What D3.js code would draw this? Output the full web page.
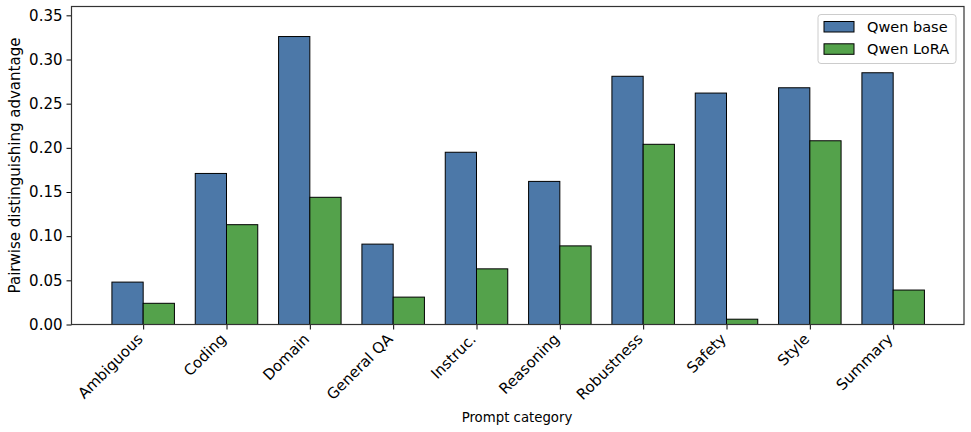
<!DOCTYPE html>
<html>
<head>
<meta charset="utf-8">
<script src="https://cdn.jsdelivr.net/npm/d3@7"></script>
<style>
  body { margin: 0; background: #fff; }
  text { font-family: "DejaVu Sans", sans-serif; fill: #000; }
</style>
</head>
<body>
<svg id="chart"></svg>
<script>
// chart data
const categories = ["Ambiguous", "Coding", "Domain", "General QA", "Instruc.", "Reasoning", "Robustness", "Safety", "Style", "Summary"];
const seriesNames = ["Qwen base", "Qwen LoRA"];
const qwenBase = [0.048, 0.171, 0.326, 0.091, 0.195, 0.162, 0.281, 0.262, 0.268, 0.285];
const qwenLora = [0.024, 0.113, 0.144, 0.031, 0.063, 0.089, 0.204, 0.006, 0.208, 0.039];
const yTicks = [0, 0.05, 0.10, 0.15, 0.20, 0.25, 0.30, 0.35];

const width = 971, height = 432;
const margin = {top: 6.5, right: 7, bottom: 107.5, left: 71.5};
const colors = ["#4c78a8", "#54a24b"];
const barW = 0.375;
const fs = "15px";

const svg = d3.select("#chart").attr("width", width).attr("height", height);

const x = d3.scaleLinear().domain([-0.86, 9.85]).range([margin.left, width - margin.right]);
const y = d3.scaleLinear().domain([0, 0.36]).range([height - margin.bottom, margin.top]);

// bars
const series = [qwenBase, qwenLora];
series.forEach((vals, s) => {
    svg.append("g")
        .selectAll("rect")
        .data(vals)
        .join("rect")
        .attr("x", (d, i) => x(i + (s === 0 ? -barW : 0)))
        .attr("y", d => y(d))
        .attr("width", x(barW) - x(0))
        .attr("height", d => y(0) - y(d))
        .attr("fill", colors[s])
        .attr("stroke", "#000")
        .attr("stroke-width", 1);
});

// y axis
const yAxis = svg.append("g")
    .attr("transform", `translate(${margin.left},0)`)
    .call(d3.axisLeft(y).tickValues(yTicks).tickFormat(d3.format(".2f")).tickSize(5).tickPadding(4));
yAxis.select(".domain").remove();
yAxis.selectAll("text").style("font-size", fs).style("font-family", "DejaVu Sans");

// x axis
const xAxis = svg.append("g")
    .attr("transform", `translate(0,${y(0)})`)
    .call(d3.axisBottom(x).tickValues(d3.range(categories.length)).tickFormat(i => categories[i]).tickSize(5));
xAxis.select(".domain").remove();
xAxis.selectAll("text")
    .style("font-size", fs)
    .style("font-family", "DejaVu Sans")
    .attr("text-anchor", "end")
    .attr("dy", 0)
    .attr("transform", "translate(0,15.5) rotate(-45)")
    .attr("y", 0).attr("x", 0);

// frame
svg.append("rect")
    .attr("x", margin.left).attr("y", margin.top)
    .attr("width", width - margin.right - margin.left)
    .attr("height", y(0) - margin.top)
    .attr("fill", "none").attr("stroke", "#333").attr("stroke-width", 1.2);

// axis titles
svg.append("text")
    .attr("transform", `translate(20,${(margin.top + y(0)) / 2}) rotate(-90)`)
    .attr("text-anchor", "middle")
    .style("font-size", fs)
    .text("Pairwise distinguishing advantage");
svg.append("text")
    .attr("x", 517).attr("y", 422)
    .attr("text-anchor", "middle")
    .style("font-size", "13.3px")
    .text("Prompt category");

// legend
const legend = svg.append("g").attr("transform", "translate(818,14.5)");
legend.append("rect")
    .attr("width", 138).attr("height", 49).attr("rx", 3)
    .attr("fill", "#fff").attr("fill-opacity", 0.8)
    .attr("stroke", "#ccc");
seriesNames.forEach((name, i) => {
    legend.append("rect")
        .attr("x", 6).attr("y", 7 + i * 22.3)
        .attr("width", 30).attr("height", 10.5)
        .attr("fill", colors[i]).attr("stroke", "#000");
    legend.append("text")
        .attr("x", 49).attr("y", 12.5 + i * 22.3)
        .attr("dy", "0.35em")
        .style("font-size", "14.5px")
        .text(name);
});
</script>
</body>
</html>
